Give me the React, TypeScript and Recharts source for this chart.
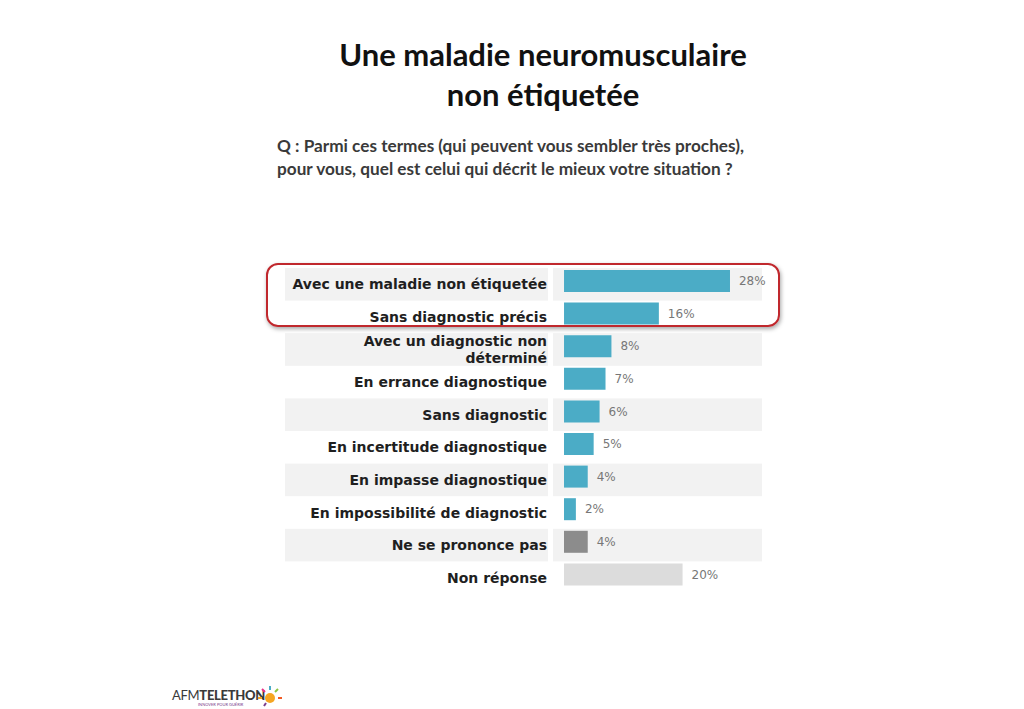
import { BarChart, Bar, XAxis, YAxis, Cell, LabelList, ReferenceArea } from 'recharts'

const categories = [
  'Avec une maladie non étiquetée',
  'Sans diagnostic précis',
  'Avec un diagnostic non|déterminé',
  'En errance diagnostique',
  'Sans diagnostic',
  'En incertitude diagnostique',
  'En impasse diagnostique',
  'En impossibilité de diagnostic',
  'Ne se prononce pas',
  'Non réponse',
]
const values = [28, 16, 8, 7, 6, 5, 4, 2, 4, 20]
const barColors = [
  '#4bacc6', '#4bacc6', '#4bacc6', '#4bacc6', '#4bacc6',
  '#4bacc6', '#4bacc6', '#4bacc6', '#8c8c8c', '#dcdcdc',
]
// rows with a grey band behind them
const shadedRows = [0, 2, 4, 6, 8]

const data = categories.map((name, i) => ({ name, value: values[i], color: barColors[i] }))

const CHART_W = 1024
const CHART_H = 709
const MARGIN = { top: 265, right: 262, bottom: 118, left: 285 }
const AXIS_W = 268
const ROW_H = (CHART_H - MARGIN.top - MARGIN.bottom) / categories.length
const BAND_SHIFT = 3 // the grey bands sit a little lower than the bars

const labelFont = '"DejaVu Sans", sans-serif'

function CategoryTick(props: any) {
  const { x, y, payload, index } = props
  const lines = String(payload.value).split('|')
  const shaded = shadedRows.includes(index)
  const cy = y + BAND_SHIFT
  return (
    <g>
      {shaded && (
        <rect x={x - 262} y={cy - ROW_H / 2} width={263} height={ROW_H} fill="#f2f2f2" />
      )}
      <text
        x={x}
        y={cy}
        textAnchor="end"
        fontFamily={labelFont}
        fontWeight={700}
        fontSize={14}
        fill="#1f1f1f"
      >
        {lines.map((l, i) => (
          <tspan key={i} x={x} dy={i === 0 ? (lines.length === 1 ? 5 : -4) : 17}>
            {l}
          </tspan>
        ))}
      </text>
    </g>
  )
}

function ShiftedBand(props: any) {
  const { x, y, width, height } = props
  return <rect x={x} y={y + BAND_SHIFT} width={width} height={height} fill="#f2f2f2" />
}

export default function App() {
  return (
    <div
      style={{
        position: 'absolute',
        left: 0,
        top: 0,
        width: CHART_W,
        height: CHART_H,
        background: '#fff',
        overflow: 'hidden',
      }}
    >
      <div
        style={{
          position: 'absolute',
          left: 0,
          top: 34,
          width: 1086,
          textAlign: 'center',
          fontFamily: 'Lato, "Open Sans", sans-serif',
          fontWeight: 700,
          fontSize: 31,
          lineHeight: '40px',
          color: '#111',
        }}
      >
        Une maladie neuromusculaire
        <br />
        non étiquetée
      </div>
      <div
        style={{
          position: 'absolute',
          left: 277,
          top: 134,
          fontFamily: 'Lato, "Open Sans", sans-serif',
          fontWeight: 700,
          fontSize: 17.2,
          lineHeight: '23px',
          color: '#3a3a3a',
        }}
      >
        Q : Parmi ces termes (qui peuvent vous sembler très proches),
        <br />
        pour vous, quel est celui qui décrit le mieux votre situation ?
      </div>

      <div style={{ position: 'absolute', left: 0, top: 0 }}>
        <BarChart
          width={CHART_W}
          height={CHART_H}
          data={data}
          layout="vertical"
          margin={MARGIN}
          barSize={22}
        >
          <XAxis type="number" hide domain={[-1.86, 33.4]} allowDataOverflow />
          <YAxis
            type="category"
            dataKey="name"
            width={AXIS_W}
            axisLine={false}
            tickLine={false}
            tickSize={0}
            tickMargin={6}
            interval={0}
            tick={<CategoryTick />}
          />
          {shadedRows.map((r) => (
            <ReferenceArea
              key={r}
              y1={categories[r]}
              y2={categories[r]}
              fill="#f2f2f2"
              fillOpacity={1}
              stroke="none"
              ifOverflow="visible"
              shape={<ShiftedBand />}
            />
          ))}
          <Bar dataKey="value" isAnimationActive={false}>
            {data.map((d, i) => (
              <Cell key={i} fill={d.color} />
            ))}
            <LabelList
              dataKey="value"
              position="right"
              offset={9}
              formatter={(v: any) => `${v}%`}
              fill="#777777"
              fontSize={12}
              fontFamily='"DejaVu Sans", sans-serif'
            />
          </Bar>
        </BarChart>
      </div>

      <div
        style={{
          position: 'absolute',
          left: 266,
          top: 263,
          width: 510,
          height: 60,
          border: '2px solid #c0282d',
          borderRadius: 12,
          boxShadow: '1px 2px 4px rgba(0,0,0,0.35)',
        }}
      />

      <div style={{ position: 'absolute', left: 172, top: 688, fontFamily: 'Lato, sans-serif' }}>
        <div style={{ fontSize: 13, lineHeight: '14px', color: '#3a3a3a', letterSpacing: -0.3 }}>
          <span style={{ fontWeight: 400 }}>AFM</span>
          <span style={{ fontWeight: 900 }}>TELETHON</span>
        </div>
        <div style={{ fontSize: 4, lineHeight: '5px', color: '#7a3d8c', marginLeft: 26 }}>
          INNOVER POUR GUÉRIR
        </div>
      </div>
      <svg style={{ position: 'absolute', left: 258, top: 685 }} width={24} height={24}>
        <circle cx={12} cy={13} r={5} fill="#f5a623" />
        <line x1={12} y1={1} x2={12} y2={5} stroke="#4bacc6" strokeWidth={2} />
        <line x1={4} y1={4} x2={7} y2={7} stroke="#e8308a" strokeWidth={2} />
        <line x1={20} y1={4} x2={17} y2={7} stroke="#8cc63f" strokeWidth={2} />
        <line x1={0} y1={13} x2={4} y2={13} stroke="#f5a623" strokeWidth={2} />
        <line x1={24} y1={13} x2={20} y2={13} stroke="#f15a24" strokeWidth={2} />
        <line x1={6} y1={21} x2={8} y2={18} stroke="#7a3d8c" strokeWidth={2} />
      </svg>
    </div>
  )
}
